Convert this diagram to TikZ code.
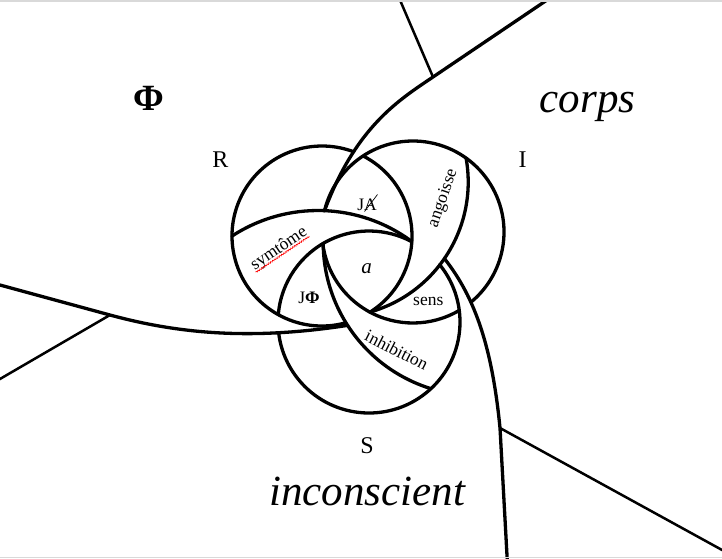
\documentclass[tikz,border=0pt]{standalone}
\usepackage{fontspec}
\setmainfont{Liberation Serif}
\usetikzlibrary{calc,decorations.pathmorphing}
\begin{document}
\begin{tikzpicture}[x=1pt, y=1pt, yscale=-1,
  ring/.style={line width=3.3pt, line cap=round},
  ray/.style={line width=2.5pt},
  word/.style={inner sep=0pt, font=\fontsize{17.5}{20}\selectfont},
  ringname/.style={inner sep=0pt, anchor=base, font=\fontsize{24}{28}\selectfont},
  field/.style={inner sep=0pt, anchor=base, font=\fontsize{43}{50}\selectfont\itshape},
  spell/.style={red, line width=0.6pt, decorate, decoration={snake, amplitude=0.7pt, segment length=2.2pt}}]
\useasboundingbox (0,0) rectangle (722,558);

\coordinate (Rc) at (322,236);
\coordinate (Ic) at (413,232);
\coordinate (Sc) at (369,322);
\coordinate (alphaC) at (318,368);
\coordinate (betaC) at (333,182);
\coordinate (gammaC) at (476.2,242.5);

\coordinate (T) at (433,77);
\coordinate (E) at (110,315);
\coordinate (D) at (500,428);
\coordinate (J1) at ($(Ic)+(193.5:91)$);
\coordinate (J2) at ($(betaC)+(34.5:135.2)$);
\coordinate (J3) at ($(gammaC)+(147.2:153)$);

\draw[ring] ($(Rc)+(74.6:90)$) arc[start angle=74.6, end angle=290.6, radius=90];
\draw[ring] ($(Rc)+(-62.8:90)$) arc[start angle=-62.8, end angle=57.8, radius=90];
\draw[ring] ($(Ic)+(-166.5:91)$) arc[start angle=-166.5, end angle=50.4, radius=91];
\draw[ring] ($(Ic)+(59.5:91)$) arc[start angle=59.5, end angle=172.7, radius=91];
\draw[ring] ($(Sc)+(-39:91)$) arc[start angle=-39, end angle=173.2, radius=91];
\draw[ring] ($(Sc)+(184.6:91)$) arc[start angle=184.6, end angle=298, radius=91];

\draw[ring] ($(alphaC)+(-123.1:157.5)$) arc[start angle=-123.1, end angle=-53.4, radius=157.5];
\draw[ring] ($(betaC)+(74.1:135.2)$) arc[start angle=74.1, end angle=-10.3, radius=135.2];
\draw[ring] ($(gammaC)+(179.7:153)$) arc[start angle=179.7, end angle=107.2, radius=153];

\draw[ring] (550,-2) -- (T) .. controls (399.9,99.4) and (356,126.1) .. (J1);
\draw[ring] (-3,284.2) -- (E) .. controls (187.2,336) and (259.4,338.9) .. (J3);
\draw[ring] (J2) .. controls (475.5,297.8) and (492.2,348.4) .. (D) -- (507.3,561);

\draw[ray] (T) -- (399,-2.3);
\draw[ray] (E) -- (-3,380.7);
\draw[ray] (D) -- (725,551.6);

\node[inner sep=0pt, anchor=base, font=\fontsize{37}{40}\selectfont\bfseries] (phi) at (149,110.5) {Φ};
\node[field] (corps) at (587.5,112) {corps};
\node[field] (incons) at (367,505) {inconscient};

\node[ringname] (nameR) at (220.5,167) {R};
\node[ringname] (nameI) at (522.5,167) {I};
\node[ringname] (nameS) at (367,453.5) {S};

\node[word, anchor=base] (jabar) at (367,210) {JA};
\draw[line width=0.7pt] (364.5,211.5) -- (377.5,194.5);
\node[word, anchor=base, font=\fontsize{21}{24}\selectfont\itshape] (obja) at (366.7,273) {a};
\node[word, anchor=base] (jphi) at (309,303.5) {J\textbf{Φ}};
\node[word, anchor=base] (sens) at (428.3,305) {sens};
\node[word, rotate=-27] (inhib) at (396.7,350) {inhibition};
\node[word, rotate=71] (angoisse) at (443.3,198.3) {angoisse};
\node[word, rotate=34] (symt) at (279,249) {symtôme};
\draw[spell] ($(symt.base west)!0.55!(symt.south west)$) -- ($(symt.base east)!0.55!(symt.south east)$);

\fill[gray!30] (0,0) rectangle (722,1.5);
\fill[gray!30] (0,556.5) rectangle (722,558);
\end{tikzpicture}
\end{document}
